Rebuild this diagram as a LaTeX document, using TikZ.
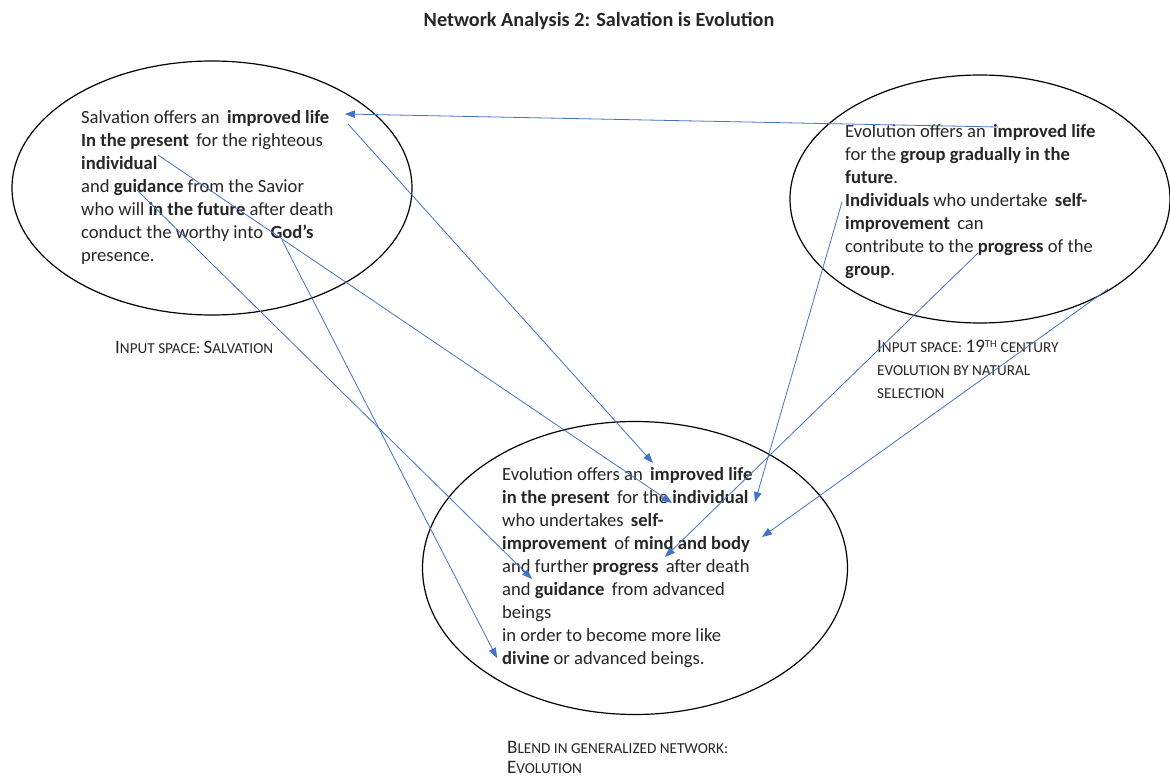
\documentclass[tikz,border=0pt]{standalone}
\usepackage{fontspec}
\setmainfont{Carlito}
\usepackage{tikz}
\usetikzlibrary{shapes.geometric,arrows.meta}
\definecolor{linkblue}{HTML}{4472C4}
\definecolor{inktext}{HTML}{262626}
\newcommand{\bodyfont}{\fontsize{18.6}{23}\selectfont}
\newcommand{\capbig}{\fontsize{19}{23}\selectfont}
\newcommand{\capsmall}{\fontsize{15.2}{23}\selectfont}

\begin{document}
\begin{tikzpicture}[x=1pt, y=-1pt,
    space/.style={ellipse, draw=black, line width=1.2pt, inner sep=0pt},
    blurb/.style={anchor=north west, inner sep=0pt, align=left, text=inktext, font=\bodyfont},
    caption/.style={anchor=north west, inner sep=0pt, align=left, text=inktext, font=\capsmall},
    link/.style={draw=linkblue, line width=0.8pt, -{Triangle[length=10pt, width=7.5pt]}}]
      \useasboundingbox[fill=white] (0,0) rectangle (1170,778);
      \node (title) [anchor=base, text=inktext, font=\bfseries\fontsize{20.2}{24}\selectfont] at (599,27) {Network Analysis 2: Salvation is Evolution};
      \node (salv) [space, minimum width=400pt, minimum height=254pt] at (212,188) {};
      \node (evol) [space, minimum width=380pt, minimum height=248pt] at (980,199) {};
      \node (blend) [space, minimum width=425pt, minimum height=293pt] at (635,568) {};
      \node (salvtext) [blurb] at (81,107) {\strut Salvation offers an \,\textbf{improved life}\\
        \textbf{In the present} \,for the righteous\\
        \textbf{individual}\\
        and \textbf{guidance} from the Savior\\
        who will \textbf{in the future} after death\\
        conduct the worthy into \,\textbf{God’s}\\
        presence.};
      \node (evoltext) [blurb] at (845,121) {\strut Evolution offers an \,\textbf{improved life}\\
        for the \textbf{group gradually in the}\\
        \textbf{future}.\\
        \textbf{Individuals} who undertake \,\textbf{self-}\\
        \textbf{improvement} \,can\\
        contribute to the \textbf{progress} of the\\
        \textbf{group}.};
      \node (blendtext) [blurb] at (502,464) {\strut Evolution offers an \,\textbf{improved life}\\
        \textbf{in the present} \,for the \textbf{individual}\\
        who undertakes \,\textbf{self-}\\
        \textbf{improvement} \,of \textbf{mind and body}\\
        and further \textbf{progress} \,after death\\
        and \textbf{guidance} \,from advanced\\
        beings\\
        in order to become more like\\
        \textbf{divine} or advanced beings.};
      \node (salvcap) [caption] at (115,337) {\strut{\capbig I}NPUT SPACE: {\capbig S}ALVATION};
      \node (evolcap) [caption] at (877,336) {\strut{\capbig I}NPUT SPACE: {\capbig 19}\textsuperscript{TH} CENTURY\\
        EVOLUTION BY NATURAL\\
        SELECTION};
      \node (blendcap) [caption, font=\fontsize{15.2}{20}\selectfont] at (507,739) {\strut{\capbig B}LEND IN GENERALIZED NETWORK:\\
        {\capbig E}VOLUTION};
      \coordinate (salvLifeTip) at (345,114);
      \coordinate (evolLife) at (998,127);
      \coordinate (salvLife) at (348,124);
      \coordinate (blendLife) at (653,463);
      \coordinate (salvPresent) at (158,155);
      \coordinate (blendPresent) at (672,503);
      \coordinate (salvGuide) at (137,190);
      \coordinate (blendGuide) at (532,579);
      \coordinate (salvGod) at (282,240);
      \coordinate (blendDivine) at (497,658);
      \coordinate (evolIndiv) at (842,202);
      \coordinate (blendIndiv) at (755,502);
      \coordinate (evolProgress) at (978,253);
      \coordinate (blendProgress) at (665,557);
      \coordinate (evolGroup) at (1108,289);
      \coordinate (blendBody) at (762,537);
      \draw[link] (evolLife) -- (salvLifeTip);
      \draw[link] (salvLife) -- (blendLife);
      \draw[link] (salvPresent) -- (blendPresent);
      \draw[link] (salvGuide) -- (blendGuide);
      \draw[link] (salvGod) -- (blendDivine);
      \draw[link] (evolIndiv) -- (blendIndiv);
      \draw[link] (evolProgress) -- (blendProgress);
      \draw[link] (evolGroup) -- (blendBody);
    \end{tikzpicture}
\end{document}
